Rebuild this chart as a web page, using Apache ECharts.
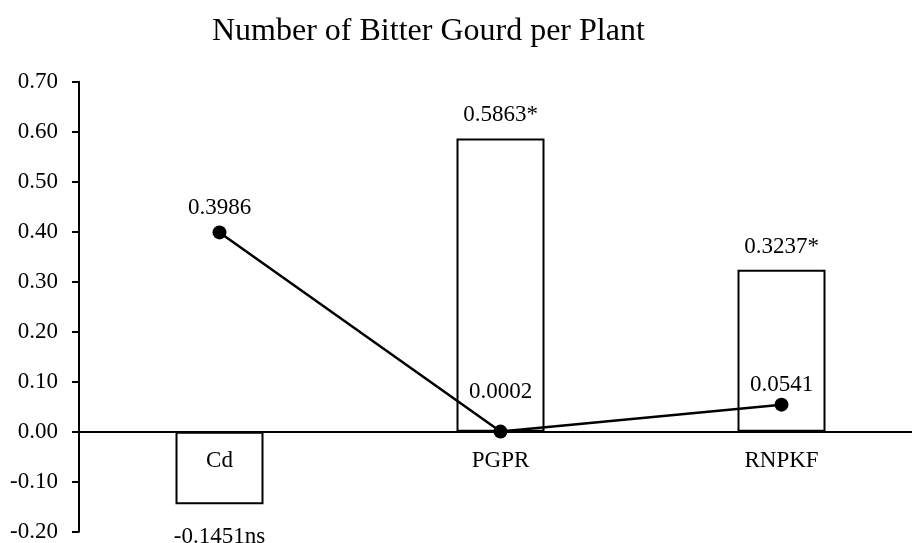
<!DOCTYPE html>
<html>
<head>
<meta charset="utf-8">
<script src="https://cdn.jsdelivr.net/npm/echarts@6/dist/echarts.min.js"></script>
<style>
  html, body { margin: 0; padding: 0; background: #fff; }
  #chart { width: 912px; height: 543px; }
</style>
</head>
<body>
<div id="chart"></div>
<script>
// data
const categories = ['Cd', 'PGPR', 'RNPKF']
const barValues = [-0.1451, 0.5863, 0.3237]
const barLabels = ['-0.1451ns', '0.5863*', '0.3237*']
const lineValues = [0.3986, 0.0002, 0.0541]
const lineLabels = ['0.3986', '0.0002', '0.0541']
// category names sit just under the zero line
const categoryBase = [0, 0, 0]

const FONT = '"Liberation Serif", "Times New Roman", serif'
const textStyle = { fontFamily: FONT, fontSize: 23, color: '#000' }

// label distances tuned per point (Excel placed them by hand)
const barLabelDist = [21, 12, 11]
const lineLabelDist = [6, 21, 1]

const chart = echarts.init(document.getElementById('chart'))

chart.setOption({
  animation: false,
  backgroundColor: '#fff',
  title: {
    text: 'Number of Bitter Gourd per Plant',
    left: 207,
    top: 11,
    textStyle: { fontFamily: FONT, fontSize: 32, fontWeight: 'normal', color: '#000' }
  },
  grid: { left: 79, right: -10, top: 81.7, bottom: 11.3, outerBoundsMode: 'none', containLabel: false },
  xAxis: {
    type: 'category',
    data: categories,
    axisLine: { onZero: true, lineStyle: { color: '#000', width: 2 } },
    axisTick: { show: false },
    axisLabel: { show: false },
    splitLine: { show: false }
  },
  yAxis: {
    type: 'value',
    min: -0.2,
    max: 0.7,
    interval: 0.1,
    axisLine: { show: true, lineStyle: { color: '#000', width: 2 } },
    axisTick: { show: true, length: 7, lineStyle: { color: '#000', width: 2 } },
    axisLabel: Object.assign({ margin: 21, formatter: v => v.toFixed(2) }, textStyle),
    splitLine: { show: false }
  },
  series: [
    {
      type: 'bar',
      barWidth: 88,
      z: 2,
      itemStyle: { color: '#fff', borderColor: '#000', borderWidth: 2 },
      data: barValues.map((v, i) => ({
        value: v,
        label: {
          show: true,
          position: v < 0 ? 'bottom' : 'top',
          distance: barLabelDist[i],
          formatter: barLabels[i]
        }
      })),
      label: textStyle
    },
    {
      type: 'line',
      z: 3,
      symbol: 'circle',
      symbolSize: 14,
      lineStyle: { color: '#000', width: 2.5 },
      itemStyle: { color: '#000' },
      data: lineValues.map((v, i) => ({
        value: v,
        label: {
          show: true,
          position: 'top',
          distance: lineLabelDist[i],
          formatter: lineLabels[i]
        }
      })),
      label: textStyle
    },
    {
      // category names drawn at the zero line
      type: 'scatter',
      z: 4,
      symbolSize: 0,
      silent: true,
      itemStyle: { color: '#000', opacity: 1 },
      data: categoryBase.map((v, i) => ({ value: v, name: categories[i] })),
      label: Object.assign({ show: true, position: 'bottom', distance: 18, opacity: 1, formatter: p => p.name }, textStyle)
    }
  ]
})
</script>
</body>
</html>
